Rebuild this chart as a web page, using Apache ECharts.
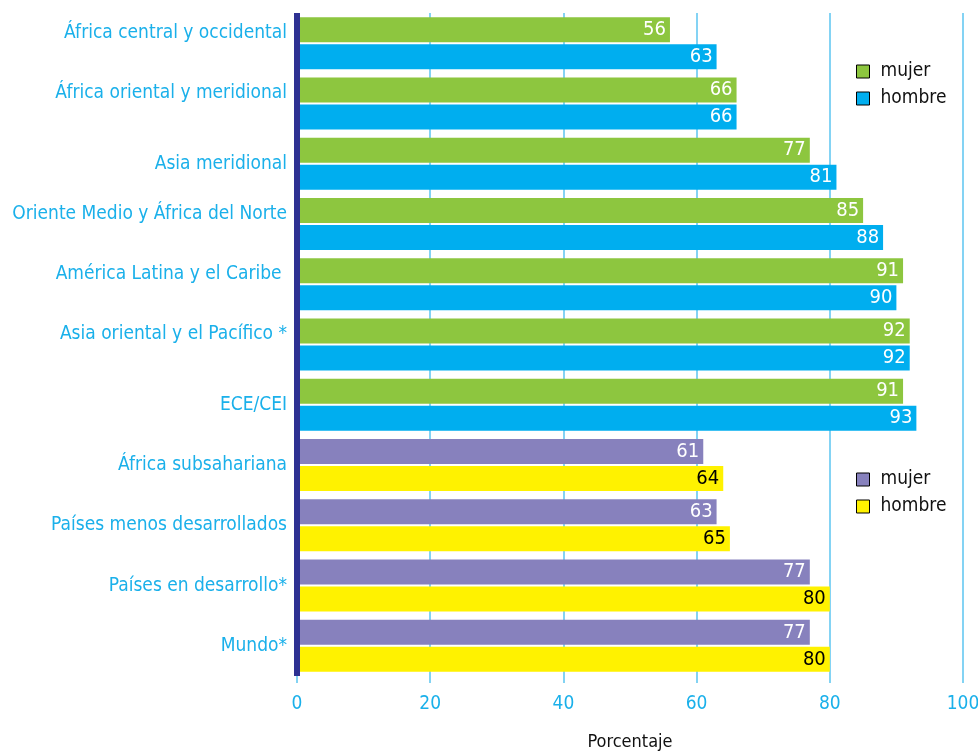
<!DOCTYPE html>
<html>
<head>
<meta charset="utf-8">
<script src="https://cdn.jsdelivr.net/npm/echarts@6/dist/echarts.min.js"></script>
<style>html,body{margin:0;padding:0;background:#fff;}#c{width:978px;height:751px;}</style>
</head>
<body>
<div id="c"></div>
<script>
const categories = ["África central y occidental","África oriental y meridional","Asia meridional","Oriente Medio y África del Norte","América Latina y el Caribe ","Asia oriental y el Pacífico *","ECE/CEI","África subsahariana","Países menos desarrollados","Países en desarrollo*","Mundo*"];
const mujerRegion = [56,66,77,85,91,92,91,'-','-','-','-'];
const hombreRegion = [63,66,81,88,90,92,93,'-','-','-','-'];
const mujerGrupo = ['-','-','-','-','-','-','-',61,63,77,77];
const hombreGrupo = ['-','-','-','-','-','-','-',64,65,80,80];
const xTicks = [0,20,40,60,80,100];

const FONT = "'DejaVu Sans Condensed','Liberation Sans Narrow','Roboto',sans-serif";
// labels drawn slightly above the band centre in the original
const raisedLabels = [0,1,3,4,5];

const chart = echarts.init(document.getElementById('c'), null, {renderer:'canvas'});
const lbl = (color) => ({show:true, position:'insideRight', distance:4, color:color, fontSize:20, fontFamily:FONT});
const legendText = {fontSize:19, color:'#111', fontFamily:FONT, padding:[0,0,0,6]};
const legendBase = {orient:'vertical', left:851, itemWidth:13, itemHeight:13, itemGap:8, icon:'rect',
  itemStyle:{borderColor:'#000', borderWidth:1}, textStyle:legendText, selectedMode:false};
chart.setOption({
  animation:false,
  grid:{left:297, right:15, top:13, bottom:75, containLabel:false, outerBoundsMode:'none'},
  legend:[
    Object.assign({data:['mujer','hombre'], top:57}, legendBase),
    Object.assign({data:['mujer ','hombre '], top:465, formatter:(n)=>n.trim()}, legendBase)
  ],
  xAxis:{type:'value', min:0, max:100, interval:20,
    name:'Porcentaje', nameLocation:'middle', nameGap:57, nameTextStyle:{color:'#111', fontSize:18, fontFamily:FONT},
    axisLine:{show:false},
    axisTick:{show:true, length:7, lineStyle:{color:'#5bc5f0', width:1.5}},
    axisLabel:{color:'#1ab0ea', fontSize:19, fontFamily:FONT, margin:19,
      formatter:(v)=> xTicks.indexOf(v)>=0 ? String(v) : ''},
    splitLine:{show:true, lineStyle:{color:'#5bc5f0', width:1.5}}
  },
  yAxis:{type:'category', data:categories, inverse:true, z:10,
    axisLine:{show:true, onZero:false, lineStyle:{color:'#2e3192', width:6, cap:'butt'}},
    axisTick:{show:false},
    axisLabel:{color:'#1ab0ea', fontSize:19, fontFamily:FONT, margin:10, lineHeight:20,
      formatter:(v, i)=> raisedLabels.indexOf(i)>=0 ? v + '\n ' : v}
  },
  series:[
    {name:'mujer', type:'bar', stack:'m', data:mujerRegion, barWidth:25, barGap:'8%',
     itemStyle:{color:'#8dc63f'}, label:lbl('#fff')},
    {name:'hombre', type:'bar', stack:'h', data:hombreRegion, barWidth:25, barGap:'8%',
     itemStyle:{color:'#00aeef'}, label:lbl('#fff')},
    {name:'mujer ', type:'bar', stack:'m', data:mujerGrupo, barWidth:25, barGap:'8%',
     itemStyle:{color:'#8781bd'}, label:lbl('#fff')},
    {name:'hombre ', type:'bar', stack:'h', data:hombreGrupo, barWidth:25, barGap:'8%',
     itemStyle:{color:'#fff200'}, label:lbl('#000')}
  ]
});
</script>
</body>
</html>
